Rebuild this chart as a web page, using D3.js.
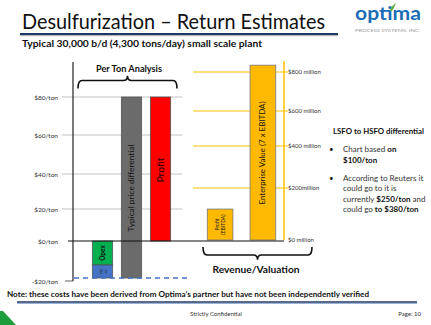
<!DOCTYPE html>
<html><head><meta charset="utf-8">
<script src="https://cdn.jsdelivr.net/npm/d3@7"></script>
<style>
html,body{margin:0;padding:0;background:#fff;}
svg{display:block;font-family:Lato,"Open Sans",sans-serif;}
</style></head>
<body><svg id="c" width="431" height="325"></svg>
<script>
// ---- data ----
const leftCategories = ["Costs", "Typical price differential", "Profit"];
const opexPerTon = -12;
const capexPerTon = -6.5;
const priceDifferentialTop = 80;
const profitPerTon = 80;
const leftTickValues = [80, 60, 40, 20, 0, -20];
const leftTickLabels = ["$80/ton", "$60/ton", "$40/ton", "$20/ton", "$0/ton", "-$20/ton"];

const rightCategories = ["Profit (EBITDA)", "Enterprise Value (7 x EBITDA)"];
const rightValues = [119, 835];
const rightTickValues = [800, 600, 400, 200, 0];
const rightTickLabels = ["$800 million", "$600 million", "$400 million", "$200million", "$0 million"];

const svg = d3.select("#c");
const navy = "#1F3864";

// ---- header ----
svg.append("text").attr("x", 22).attr("y", 28.5).attr("font-size", 21).attr("fill", "#111")
  .attr("textLength", 303).attr("lengthAdjust", "spacingAndGlyphs")
  .text("Desulfurization \u2013 Return Estimates");
svg.append("line").attr("x1", 20).attr("x2", 338).attr("y1", 35.5).attr("y2", 35.5).attr("stroke", "#bbb").attr("stroke-width", 1.5);
svg.append("line").attr("x1", 20).attr("x2", 338).attr("y1", 34).attr("y2", 34).attr("stroke", navy).attr("stroke-width", 2);
svg.append("text").attr("x", 22).attr("y", 46.5).attr("font-size", 9).attr("font-weight", "bold").attr("fill", "#111")
  .attr("textLength", 240).attr("lengthAdjust", "spacingAndGlyphs")
  .text("Typical 30,000 b/d (4,300 tons/day) small scale plant");

// logo
svg.append("text").attr("x", 355).attr("y", 19.5).attr("font-size", 18).attr("font-weight", "bold")
  .attr("fill", "#1B6DB5").attr("textLength", 66).attr("lengthAdjust", "spacingAndGlyphs").text("optima");
svg.append("path").attr("d", "M390,11 Q391,6 396,3 Q394,8 392,11 Z").attr("fill", "#5DB03A");
svg.append("text").attr("x", 355).attr("y", 31.5).attr("font-size", 4.5).attr("fill", "#9a9a9a")
  .attr("textLength", 65).attr("lengthAdjust", "spacingAndGlyphs").text("PROCESS SYSTEMS, INC.");

// ---- scales ----
const yL = d3.scaleLinear().domain([-20, 0, 20, 40, 60, 80]).range([281, 241, 209, 174, 135, 97]);
const xL = d3.scaleBand().domain(leftCategories).range([88, 175]).paddingInner(0.3).paddingOuter(0.15);
const yR = d3.scaleLinear().domain([0, 200, 400, 600, 800]).range([240, 188, 146, 111, 72]);
const xR = d3.scaleBand().domain(rightCategories).range([203, 280]).paddingInner(0.4).paddingOuter(0.1);

// gridlines left
svg.append("g").selectAll("line").data(leftTickValues.filter(v => v > 0)).join("line")
  .attr("x1", 62).attr("x2", 182).attr("y1", d => yL(d)).attr("y2", d => yL(d))
  .attr("stroke", "#c4c4c4").attr("stroke-width", 1);
svg.append("line").attr("x1", 65).attr("x2", 73).attr("y1", yL(-20)).attr("y2", yL(-20)).attr("stroke", "#666");
// gridlines right
svg.append("g").selectAll("line").data(rightTickValues.filter(v => v > 0)).join("line")
  .attr("x1", 193).attr("x2", 288).attr("y1", d => yR(d)).attr("y2", d => yR(d))
  .attr("stroke", "#FFC000").attr("stroke-width", 1);

// left labels
const leftAxis = d3.axisLeft(yL).tickValues(leftTickValues).tickSize(0).tickPadding(0)
  .tickFormat((d, i) => leftTickLabels[i]);
const gLA = svg.append("g").attr("transform", "translate(58,0)").call(leftAxis);
gLA.select(".domain").remove();
gLA.selectAll("text").attr("font-size", 6.5).attr("fill", "#333").attr("font-family", "Lato,sans-serif");

// right labels
const rightAxis = d3.axisRight(yR).tickValues(rightTickValues).tickSize(0).tickPadding(0)
  .tickFormat((d, i) => rightTickLabels[i]);
const gRA = svg.append("g").attr("transform", "translate(288,0)").call(rightAxis);
gRA.select(".domain").remove();
gRA.selectAll("text").attr("font-size", 6).attr("fill", "#333").attr("font-family", "Lato,sans-serif");

// axis lines
svg.append("line").attr("x1", 73).attr("x2", 73).attr("y1", 62).attr("y2", yL(-20)).attr("stroke", "#222").attr("stroke-width", 1.2);
svg.append("line").attr("x1", 284).attr("x2", 284).attr("y1", 61).attr("y2", yR(0)).attr("stroke", "#FFC000").attr("stroke-width", 1.5);

// bars left
const barStroke = "#555";
const bx0 = xL(leftCategories[0]), bw = xL.bandwidth();
svg.append("rect").attr("x", bx0).attr("width", bw).attr("y", yL(0)).attr("height", yL(opexPerTon) - yL(0))
  .attr("fill", "#00B050").attr("stroke", barStroke).attr("stroke-width", 0.8);
svg.append("rect").attr("x", bx0).attr("width", bw).attr("y", yL(opexPerTon)).attr("height", yL(opexPerTon + capexPerTon) - yL(opexPerTon))
  .attr("fill", "#4472C4").attr("stroke", barStroke).attr("stroke-width", 0.8);
const costBottom = opexPerTon + capexPerTon;
const bx1 = xL(leftCategories[1]);
svg.append("rect").attr("x", bx1).attr("width", bw).attr("y", yL(priceDifferentialTop)).attr("height", yL(costBottom) - yL(priceDifferentialTop))
  .attr("fill", "#6B6B6B").attr("stroke", barStroke).attr("stroke-width", 0.8);
const bx2 = xL(leftCategories[2]);
svg.append("rect").attr("x", bx2).attr("width", bw).attr("y", yL(profitPerTon)).attr("height", yL(0) - yL(profitPerTon))
  .attr("fill", "#FF0000").attr("stroke", barStroke).attr("stroke-width", 0.8);

// bars right
svg.append("g").selectAll("rect").data(rightValues).join("rect")
  .attr("x", (d, i) => xR(rightCategories[i])).attr("width", xR.bandwidth())
  .attr("y", d => yR(d)).attr("height", d => yR(0) - yR(d))
  .attr("fill", "#FFB900").attr("stroke", "#777").attr("stroke-width", 0.8);

// zero line
svg.append("line").attr("x1", 68).attr("x2", 284).attr("y1", yL(0)).attr("y2", yL(0)).attr("stroke", "#111").attr("stroke-width", 1.2);
// dashed cost line
svg.append("line").attr("x1", 74).attr("x2", 187).attr("y1", yL(costBottom)).attr("y2", yL(costBottom))
  .attr("stroke", "#4472C4").attr("stroke-width", 1.6).attr("stroke-dasharray", "5,4");

// rotated labels
function vtext(cx, cy, txt, size, color, weight, len) {
  const t = svg.append("text").attr("transform", `translate(${cx},${cy}) rotate(-90)`)
    .attr("text-anchor", "middle").attr("dominant-baseline", "central")
    .attr("font-size", size).attr("fill", color).attr("font-weight", weight || "normal").text(txt);
  if (len) t.attr("textLength", len).attr("lengthAdjust", "spacingAndGlyphs");
  return t;
}
vtext(bx0 + bw / 2, (yL(0) + yL(opexPerTon)) / 2, "Opex", 6.5, "#111", "bold");
vtext(bx0 + bw / 2 - 2.5, (yL(opexPerTon) + yL(costBottom)) / 2, "cap", 3.6, "#222");
vtext(bx0 + bw / 2 + 2.5, (yL(opexPerTon) + yL(costBottom)) / 2, "ex", 3.6, "#222");
vtext(bx1 + bw / 2, 188, "Typical price differential", 7.5, "#111", "normal", 87);
vtext(bx2 + bw / 2, 170, "Profit", 9, "#2a0000", "normal", 25);
const ex = xR(rightCategories[1]) + xR.bandwidth() / 2;
vtext(ex, 153, "Enterprise Value (7 x EBITDA)", 7.5, "#111", "normal", 103);
const px = xR(rightCategories[0]) + xR.bandwidth() / 2;
vtext(px - 3, (yR(0) + yR(rightValues[0])) / 2, "Profit", 5, "#222");
vtext(px + 3, (yR(0) + yR(rightValues[0])) / 2, "(EBITDA)", 5, "#222");

// braces
function brace(x1, x2, y, d, up) {
  const s = up ? -1 : 1;
  const m = (x1 + x2) / 2, r = 4;
  return `M${x1},${y - s * d} Q${x1},${y} ${x1 + r},${y} L${m - r},${y} Q${m},${y} ${m},${y + s * d * 0.6}` +
    ` Q${m},${y} ${m + r},${y} L${x2 - r},${y} Q${x2},${y} ${x2},${y - s * d}`;
}
svg.append("path").attr("d", brace(78, 177, 80.5, 8, true)).attr("fill", "none").attr("stroke", "#111").attr("stroke-width", 1.6);
svg.append("text").attr("x", 129).attr("y", 71.5).attr("text-anchor", "middle").attr("font-size", 8.5).attr("font-weight", "bold")
  .attr("fill", "#111").attr("textLength", 66).attr("lengthAdjust", "spacingAndGlyphs").text("Per Ton Analysis");
svg.append("path").attr("d", brace(203, 312, 255, 8, false)).attr("fill", "none").attr("stroke", "#111").attr("stroke-width", 1.6);
svg.append("text").attr("x", 256).attr("y", 272.5).attr("text-anchor", "middle").attr("font-size", 10).attr("font-weight", "bold")
  .attr("fill", "#111").attr("textLength", 87).attr("lengthAdjust", "spacingAndGlyphs").text("Revenue/Valuation");

// side notes
const notes = svg.append("g").attr("font-size", 8).attr("fill", "#222");
notes.append("text").attr("x", 333).attr("y", 133.5).attr("font-weight", "bold").attr("fill", "#111").attr("font-size", 7.5)
  .attr("textLength", 91).attr("lengthAdjust", "spacingAndGlyphs").text("LSFO to HSFO differential");
notes.append("text").attr("x", 329).attr("y", 152).text("\u2022");
notes.append("text").attr("x", 329).attr("y", 180.5).text("\u2022");
const lines = [
  [152, [["Chart based ", "normal"], ["on", "bold"]]],
  [162.5, [["$100/ton", "bold"]]],
  [180.5, [["According to Reuters it", "normal"]]],
  [191, [["could go to it is", "normal"]]],
  [201.5, [["currently ", "normal"], ["$250/ton", "bold"], [" and", "normal"]]],
  [212, [["could go ", "normal"], ["to $380/ton", "bold"]]]
];
lines.forEach(([y, parts]) => {
  const t = notes.append("text").attr("x", 343).attr("y", y);
  parts.forEach(([s, w]) => t.append("tspan").attr("font-weight", w).attr("fill", w === "bold" ? "#111" : "#333").text(s));
});

// footer
svg.append("text").attr("x", 7).attr("y", 297).attr("font-size", 7.5).attr("font-weight", "bold").attr("fill", "#111")
  .attr("textLength", 362).attr("lengthAdjust", "spacingAndGlyphs")
  .text("Note: these costs have been derived from Optima\u2019s partner but have not been independently verified");
svg.append("line").attr("x1", 17).attr("x2", 417).attr("y1", 303.5).attr("y2", 303.5).attr("stroke", "#9db3d6").attr("stroke-width", 1);
svg.append("line").attr("x1", 17).attr("x2", 417).attr("y1", 302).attr("y2", 302).attr("stroke", navy).attr("stroke-width", 1.6);
svg.append("text").attr("x", 216).attr("y", 315.5).attr("text-anchor", "middle").attr("font-size", 6).attr("fill", "#333").text("Strictly Confidential");
svg.append("text").attr("x", 421).attr("y", 315.5).attr("text-anchor", "end").attr("font-size", 6).attr("fill", "#333").text("Page: 10");
svg.append("path").attr("d", "M0,311 L3,311 L16,325 L0,325 Z").attr("fill", "#1E9E3A");
</script></body></html>
